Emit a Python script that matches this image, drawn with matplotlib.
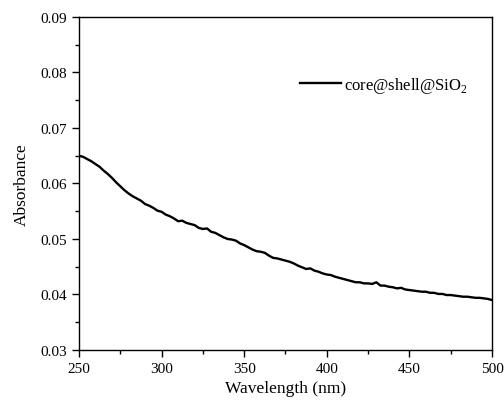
import numpy as np
import matplotlib
matplotlib.use("Agg")
import matplotlib.pyplot as plt
from matplotlib.ticker import MultipleLocator

plt.rcParams['font.family'] = ['Liberation Serif', 'DejaVu Serif']
plt.rcParams['mathtext.fontset'] = 'custom'
plt.rcParams['mathtext.rm'] = 'Liberation Serif'

wavelength = np.arange(250, 500.1, 2.5)
absorbance = [
    0.0650, 0.0648, 0.0644, 0.0640, 0.0635, 0.0630, 0.0623, 0.0617, 0.0610, 0.0602,
    0.0595, 0.0588, 0.0582, 0.0577, 0.0573, 0.0569, 0.0563, 0.0560, 0.0556, 0.0551,
    0.0549, 0.0544, 0.0541, 0.0537, 0.0532, 0.0533, 0.0529, 0.0527, 0.0525, 0.0520,
    0.0518, 0.0519, 0.0513, 0.0511, 0.0507, 0.0503, 0.0500, 0.0499, 0.0497, 0.0492,
    0.0489, 0.0485, 0.0481, 0.0478, 0.0477, 0.0475, 0.0470, 0.0466, 0.0465, 0.0463,
    0.0461, 0.0459, 0.0456, 0.0452, 0.0449, 0.0446, 0.0447, 0.0443, 0.0441, 0.0438,
    0.0436, 0.0435, 0.0432, 0.0430, 0.0428, 0.0426, 0.0424, 0.0422, 0.0422, 0.0420,
    0.0420, 0.0419, 0.0422, 0.0416, 0.0416, 0.0414, 0.0413, 0.0411, 0.0412, 0.0409,
    0.0408, 0.0407, 0.0406, 0.0405, 0.0405, 0.0403, 0.0403, 0.0401, 0.0401, 0.0399,
    0.0399, 0.0398, 0.0397, 0.0396, 0.0396, 0.0395, 0.0394, 0.0394, 0.0393, 0.0392,
    0.0390,
]
series_label = 'core@shell@SiO$_2$'
x_label = 'Wavelength (nm)'
y_label = 'Absorbance'

fig = plt.figure(figsize=(5.04, 4.06), dpi=100)
ax = fig.add_axes([0.1567, 0.1355, 0.8195, 0.8202])
ax.plot(wavelength, absorbance, color='black', linewidth=1.7, label=series_label)

ax.set_xlim(250, 500)
ax.set_ylim(0.03, 0.09)
ax.xaxis.set_major_locator(MultipleLocator(50))
ax.xaxis.set_minor_locator(MultipleLocator(25))
ax.yaxis.set_major_locator(MultipleLocator(0.01))
ax.yaxis.set_minor_locator(MultipleLocator(0.005))
ax.yaxis.set_major_formatter(matplotlib.ticker.FormatStrFormatter('%.2f'))
ax.tick_params(which='major', direction='out', length=5, width=1, labelsize=11, top=False, right=False)
ax.tick_params(which='minor', direction='out', length=3, width=1, top=False, right=False)
for s in ax.spines.values():
    s.set_linewidth(1.0)

ax.set_xlabel(x_label, fontsize=12.5, labelpad=4)
ax.set_ylabel(y_label, fontsize=12.5, labelpad=8)

ax.legend(loc='upper left', bbox_to_anchor=(0.519, 0.845), frameon=False,
          fontsize=12, handlelength=2.45, handletextpad=0.2, borderaxespad=0)

fig.savefig('out.png', dpi=100)
